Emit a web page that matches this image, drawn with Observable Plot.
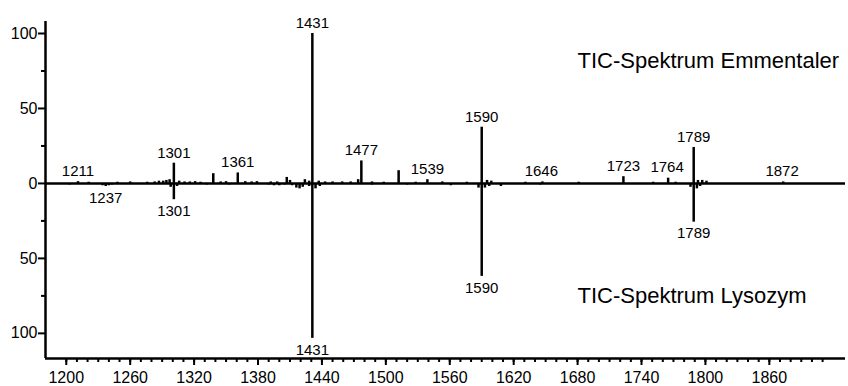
<!DOCTYPE html>
<html><head><meta charset="utf-8">
<script src="https://cdn.jsdelivr.net/npm/d3@7"></script>
<script src="https://cdn.jsdelivr.net/npm/@observablehq/plot@0.6"></script>
<style>
html,body{margin:0;padding:0;background:#fff;}
#chart svg{display:block;}
</style></head><body><div id="chart"></div>
<script>
// Emmentaler TIC spectrum (upwards)
const emmMz  = [1211,1221,1248,1260,1276,1283,1287,1291,1294,1297,1301,1306,1311,1316,1321,1326,1338,1345,1350,1361,1368,1374,1379,1392,1398,1407,1410,1424,1428,1431,1437,1443,1450,1459,1467,1474,1477,1487,1498,1512,1528,1539,1553,1576,1590,1595,1599,1631,1647,1681,1723,1751,1765,1772,1789,1793,1797,1801,1873];
const emmInt = [1.2,0.8,0.8,1,0.8,1,1.5,1.5,2,2.5,13.5,1.5,1,1,1.2,0.8,6.5,1,1.2,7,1.2,1,1.2,1,1,4,2,2.5,1.5,100,1.5,1,1,1,1,2.5,15,1,0.8,8.5,0.8,2.5,1,0.8,37.5,2,1.5,0.8,1,0.8,4.5,0.8,3.5,0.8,24,2,2,1.5,1];
// Lysozym TIC spectrum (downwards)
const lysMz  = [1203,1234,1237,1240,1243,1298,1301,1304,1332,1353,1390,1395,1400,1405,1412,1416,1419,1422,1428,1431,1434,1438,1487,1520,1561,1587,1590,1593,1597,1608,1645,1786,1789,1792,1795];
const lysInt = [1,1.5,2,1.5,1,2.5,10.5,2,1,1,1,1.5,1.5,1,1.5,3,3.5,2.5,2,100,3.5,2,1,1,1.5,3,60,3,2,2,1,2.5,25,3.5,2];
// peak labels
const emmLabels = [1211,1301,1361,1431,1477,1539,1590,1646,1723,1764,1789,1872];
const lysLabels = [1237,1301,1431,1590,1789];
// scales / ticks
const xDomain = [1180.5, 1931.5];
const yDomain = [-113, 108];
const lowerStretch = 1.0333; // lower half drawn slightly taller than upper half
const xMajorTicks = [1200,1260,1320,1380,1440,1500,1560,1620,1680,1740,1800,1860];
const xMinorTicks = d3.range(1200, 1911, 10);
const yMajorTicks = [-100,-50,0,50,100];
const yMinorTicks = [-75,-25,25,75];
const titleTop = "TIC-Spektrum Emmentaler";
const titleBottom = "TIC-Spektrum Lysozym";

const emm = emmMz.map((mz,i)=>({mz, v: emmInt[i]}));
const lys = lysMz.map((mz,i)=>({mz, v: -lysInt[i]}));
function nearest(arr, mz){ return arr.reduce((a,b)=>Math.abs(b.mz-mz)<Math.abs(a.mz-mz)?b:a); }
const emmLab = emmLabels.map(mz=>({mz, v: nearest(emm, mz).v, label: String(mz)}));
const lysLab = lysLabels.map(mz=>({mz, v: nearest(lys, mz).v, label: String(mz)}));

const yT = v => v < 0 ? v * lowerStretch : v;
const font = "'Liberation Sans', Arial, sans-serif";
const plot = Plot.plot({
  width: 848, height: 386,
  marginLeft: 45, marginRight: 3, marginTop: 21, marginBottom: 28,
  style: {fontFamily: font, fontSize: "15px", color: "#000", background: "#fff"},
  x: {domain: xDomain},
  y: {domain: [yT(yDomain[0]), yT(yDomain[1])], transform: yT},
  marks: [
    Plot.ruleX(emm, {x: "mz", y1: 0, y2: "v", stroke: "#000", strokeWidth: 2.5}),
    Plot.ruleX(lys, {x: "mz", y1: 0, y2: "v", stroke: "#000", strokeWidth: 2.5}),
    Plot.ruleY([0], {stroke: "#000", strokeWidth: 2.5}),
    Plot.ruleX([xDomain[0]], {y1: yDomain[0], y2: yDomain[1], stroke: "#000", strokeWidth: 2.5}),
    Plot.ruleY([yDomain[0]], {stroke: "#000", strokeWidth: 2.5}),
    Plot.axisX({ticks: xMajorTicks, tickSize: 7, tickPadding: 6, fontSize: 16, label: null, strokeWidth: 2, tickFormat: d => String(d)}),
    Plot.axisX({ticks: xMinorTicks, tickSize: 4, label: null, strokeWidth: 2, tickFormat: () => ""}),
    Plot.axisY({ticks: yMajorTicks, tickSize: 7, tickPadding: 1, fontSize: 16, label: null, strokeWidth: 2, tickFormat: d => String(Math.abs(d))}),
    Plot.axisY({ticks: yMinorTicks, tickSize: 4, label: null, strokeWidth: 2, tickFormat: () => ""}),
    Plot.text(emmLab, {x: "mz", y: "v", text: "label", dy: -10.5, lineAnchor: "middle", fontSize: 15, fill: "#000"}),
    Plot.text(lysLab, {x: "mz", y: "v", text: "label", dy: 11.5, lineAnchor: "middle", fontSize: 15, fill: "#000"}),
    Plot.text([titleTop], {frameAnchor: "top-left", dx: 532, dy: 39.7, textAnchor: "start", lineAnchor: "middle", fontSize: 22, fill: "#000"}),
    Plot.text([titleBottom], {frameAnchor: "top-left", dx: 532, dy: 274, textAnchor: "start", lineAnchor: "middle", fontSize: 22, fill: "#000"})
  ]
});
document.getElementById("chart").appendChild(plot);
</script></body></html>
